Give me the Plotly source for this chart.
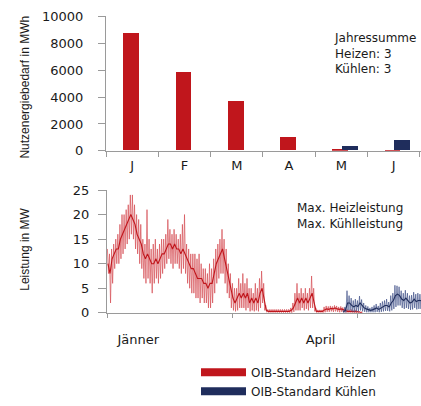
import plotly.graph_objects as go

# ---------------- data ----------------
month_labels = ["J", "F", "M", "A", "M", "J"]
heat_month = [8700, 5800, 3650, 1000, 40, 15]      # MWh
cool_month = [0, 0, 0, 0, 350, 750]                # MWh
y1_ticks = [0, 2000, 4000, 6000, 8000, 10000]
y2_ticks = [0, 5, 10, 15, 20, 25]

# daily heating power (MW): central value, daily max, daily min, from day 0 (1 Jan)
heat_mid = [10, 8, 11, 12, 13, 13, 15, 16, 17, 18, 19, 20, 19, 18, 16, 15, 14, 12, 11, 12,
            11, 10, 10, 11, 10, 11, 12, 12, 13, 14, 14, 13, 14, 13, 13, 12, 13, 12, 11, 10,
            9, 9, 8, 7, 7, 7, 6, 6, 5, 6, 6, 8, 10, 11, 12, 13, 11, 9, 7, 5,
            3, 2, 3, 4, 3, 4, 3, 4, 2, 3, 2, 3, 2, 4, 5, 3, 0.5, 0.3, 0.3, 0.3,
            0.3, 0.3, 0.3, 0.3, 0.3, 0.3, 0.3, 0.3, 0.5, 1, 2, 3, 2, 3, 2, 3, 2, 3, 4, 2,
            0.3, 0.3, 0.3, 0.3, 0.6, 0.8, 0.7, 0.9, 0.8, 1.0, 0.8, 0.7, 0.8, 0.6, 0.4, 0.3,
            0.3, 0.3, 0.2, 0.3, 0.2, 0.1, 0]
heat_hi = [13, 12, 13, 14, 15, 16, 18, 20, 20, 21, 22, 24, 24, 22, 20, 19, 18, 15, 14, 21,
           15, 13, 14, 15, 13, 14, 15, 15, 16, 19, 17, 16, 17, 16, 15, 16, 18, 20, 14, 13,
           12, 12, 12, 11, 12, 10, 9, 9, 8, 10, 9, 11, 13, 14, 15, 17, 15, 13, 10, 8,
           6, 5, 5, 7, 6, 8, 6, 7, 5, 5, 4, 6, 5, 7, 8.5, 6, 1.5, 0.7, 0.7, 0.7,
           0.7, 0.7, 0.7, 0.7, 0.7, 0.7, 0.7, 0.7, 1, 2, 4, 6, 4, 5, 4, 5, 4, 5, 7.5, 5,
           1, 0.6, 0.6, 0.6, 1.2, 1.4, 1.3, 1.4, 1.3, 1.5, 1.4, 1.2, 1.3, 1.1, 0.9, 0.7,
           0.6, 0.7, 0.5, 0.6, 0.4, 0.3, 0.2]
heat_lo = [8, 2, 6, 9, 10, 10, 11, 12, 13, 14, 15, 16, 15, 13, 12, 10, 9, 7, 6, 7,
           6, 4, 6, 7, 6, 7, 8, 9, 10, 11, 10, 9, 10, 10, 9, 8, 9, 8, 6, 5,
           4, 4, 3, 3, 2, 3, 2, 2, 1, 1, 2, 4, 6, 7, 8, 8, 6, 4, 3, 1,
           0.5, 0.3, 0.5, 1, 1, 1, 0.5, 1, 0.3, 0.5, 0.3, 0.5, 0.3, 1, 2, 0.5, 0.1, 0, 0, 0,
           0, 0, 0, 0, 0, 0, 0, 0, 0, 0.2, 0.5, 0.5, 0.5, 1, 0.5, 0.8, 0.5, 1, 1, 0.3,
           0, 0, 0, 0, 0.1, 0.2, 0.2, 0.3, 0.2, 0.3, 0.2, 0.1, 0.2, 0.1, 0, 0,
           0, 0, 0, 0, 0, 0, 0]
heat_start_day = 0

# daily cooling power (MW), starting at day 113
cool_mid = [0.2, 0.5, 2, 2, 1.5, 1.2, 1.5, 1.3, 2, 1.5, 1, 0.8, 0.6, 0.5, 0.6, 0.8, 1, 0.7,
            1, 1.3, 1.5, 1.5, 1.2, 2, 2.5, 3.5, 3.8, 3.5, 2.8, 2.5, 3, 2.5, 2, 2.2, 2.8, 2.3,
            2.5, 2.5, 2.3, 2.5]
cool_hi = [0.6, 1.2, 4.5, 3.5, 3, 2.5, 2.8, 2.5, 3.4, 2.7, 2, 1.5, 1.3, 1, 1.2, 1.5, 1.8, 1.4,
           2, 2.3, 2.5, 2.8, 2.2, 3.5, 4, 5.6, 5.5, 5.3, 4.5, 4, 4.6, 4, 3.5, 3.6, 4.2, 3.8,
           4, 3.8, 3.5, 4]
cool_lo = [0, 0.1, 0.5, 0.5, 0.3, 0.2, 0.3, 0.3, 0.5, 0.3, 0.2, 0.1, 0.1, 0.1, 0.1, 0.1, 0.2, 0.1,
           0.2, 0.3, 0.4, 0.4, 0.3, 0.5, 0.8, 1.2, 1.5, 1.5, 1, 0.8, 1, 0.8, 0.6, 0.7, 1, 0.7,
           0.8, 0.8, 0.7, 0.8]
cool_start_day = 113

x_tick_days = [15, 102.5]
x_tick_text = ["Jänner", "April"]
x_minor_days = [0, 60, 120]

RED = "#c0161c"
BLUE = "#1f2d5c"
FONT = "DejaVu Sans"
TXT = "#1a1a1a"
AX = "#9a9a9a"

W, H = 421, 406


def px_x(p):
    return p / W


def px_y(p):
    return (H - p) / H


def zigzag(start, hi, lo):
    xs, ys = [], []
    for i, (h, l) in enumerate(zip(hi, lo)):
        d = start + i
        xs += [d + 0.2, d + 0.7]
        ys += [h, l]
    return xs, ys


fig = go.Figure()

# ---- top: monthly bars ----
mx = list(range(len(month_labels)))
fig.add_trace(go.Bar(x=mx, y=heat_month, marker_color=RED, marker_line_width=0,
                     offset=-0.17, width=0.30, xaxis="x", yaxis="y", showlegend=False))
fig.add_trace(go.Bar(x=mx, y=cool_month, marker_color=BLUE, marker_line_width=0,
                     offset=0.013, width=0.30, xaxis="x", yaxis="y", showlegend=False))

# ---- bottom: power time series ----
hx, hy = zigzag(heat_start_day, heat_hi, heat_lo)
fig.add_trace(go.Scatter(x=hx, y=hy, mode="lines", line=dict(color="rgba(215,85,92,0.75)", width=1),
                         xaxis="x2", yaxis="y2", showlegend=False, hoverinfo="skip"))
fig.add_trace(go.Scatter(x=[heat_start_day + i + 0.45 for i in range(len(heat_mid))], y=heat_mid,
                         mode="lines", line=dict(color=RED, width=1.1),
                         xaxis="x2", yaxis="y2", showlegend=False))
cx, cy = zigzag(cool_start_day, cool_hi, cool_lo)
fig.add_trace(go.Scatter(x=cx, y=cy, mode="lines", line=dict(color="rgba(70,85,140,0.7)", width=1),
                         xaxis="x2", yaxis="y2", showlegend=False, hoverinfo="skip"))
fig.add_trace(go.Scatter(x=[cool_start_day + i + 0.45 for i in range(len(cool_mid))], y=cool_mid,
                         mode="lines", line=dict(color=BLUE, width=1.1),
                         xaxis="x2", yaxis="y2", showlegend=False))

# legend entries
fig.add_trace(go.Scatter(x=[None], y=[None], mode="lines", line=dict(color=RED, width=8),
                         name="OIB-Standard Heizen", xaxis="x2", yaxis="y2"))
fig.add_trace(go.Scatter(x=[None], y=[None], mode="lines", line=dict(color=BLUE, width=8),
                         name="OIB-Standard Kühlen", xaxis="x2", yaxis="y2"))

tickfont = dict(family=FONT, size=13, color=TXT)
notefont = dict(family=FONT, size=12, color=TXT)

fig.update_layout(
    width=W, height=H, autosize=False,
    margin=dict(l=0, r=0, t=0, b=0),
    paper_bgcolor="white", plot_bgcolor="white",
    bargap=0, barmode="overlay",
    xaxis=dict(domain=[px_x(106), 1], range=[-0.5, -0.5 + (W - 106) / 52.3],
               tickmode="array", tickvals=mx, ticktext=month_labels,
               ticks="", ticklabelstandoff=3, tickfont=tickfont,
               showline=True, linecolor=AX, linewidth=1, showgrid=False, zeroline=False,
               minor=dict(tickmode="array", tickvals=[i - 0.5 for i in range(len(mx) + 1)],
                          ticks="outside", ticklen=5, tickcolor=AX, showgrid=False),
               anchor="y", fixedrange=True),
    yaxis=dict(domain=[px_y(151.7), px_y(10)], range=[0, 10000],
               tickmode="array", tickvals=y1_ticks, ticktext=[str(v) for v in y1_ticks],
               ticks="outside", ticklen=7, tickcolor=AX, ticklabelstandoff=12, tickfont=tickfont,
               showline=True, linecolor=AX, linewidth=1, showgrid=False, zeroline=False,
               anchor="x", fixedrange=True),
    xaxis2=dict(domain=[px_x(107), 1], range=[0, (W - 107) / 2.0833],
                tickmode="array", tickvals=x_tick_days, ticktext=x_tick_text,
                ticks="", ticklabelstandoff=15, tickfont=tickfont,
                showline=True, linecolor=AX, linewidth=1, showgrid=False, zeroline=False,
                minor=dict(tickmode="array", tickvals=x_minor_days, ticks="outside",
                           ticklen=4, tickcolor=AX, showgrid=False),
                anchor="y2", fixedrange=True),
    yaxis2=dict(domain=[px_y(322.5), px_y(193)], range=[0, 25],
                tickmode="array", tickvals=y2_ticks, ticktext=[str(v) for v in y2_ticks],
                ticks="outside", ticklen=8, tickcolor=AX, ticklabelstandoff=6, tickfont=tickfont,
                showline=True, linecolor=AX, linewidth=1, showgrid=False, zeroline=False,
                anchor="x2", fixedrange=True),
    legend=dict(x=px_x(196), y=px_y(370), xanchor="left", yanchor="top",
                font=dict(family=FONT, size=12, color=TXT), bgcolor="rgba(0,0,0,0)",
                itemwidth=45, tracegroupgap=0),
    annotations=[
        dict(text="Nutzenergiebedarf in MWh", textangle=-90, xref="paper", yref="paper",
             x=px_x(25), y=px_y(85), xanchor="center", yanchor="middle", showarrow=False,
             font=dict(family="Liberation Sans", size=12, color=TXT)),
        dict(text="Leistung in MW", textangle=-90, xref="paper", yref="paper",
             x=px_x(25), y=px_y(256), xanchor="center", yanchor="middle", showarrow=False,
             font=dict(family="Liberation Sans", size=12, color=TXT)),
        dict(text="Jahressumme<br>Heizen: 3<br>Kühlen: 3", align="left",
             xref="paper", yref="paper", x=px_x(332), y=px_y(49),
             xanchor="left", yanchor="middle", showarrow=False, font=notefont),
        dict(text="Max. Heizleistung<br>Max. Kühlleistung", align="left",
             xref="paper", yref="paper", x=px_x(295), y=px_y(220),
             xanchor="left", yanchor="middle", showarrow=False, font=notefont),
    ],
)

fig.write_html("out.html", config={"displayModeBar": False},
               post_script="document.body.style.margin='0';document.body.style.overflow='hidden';")
